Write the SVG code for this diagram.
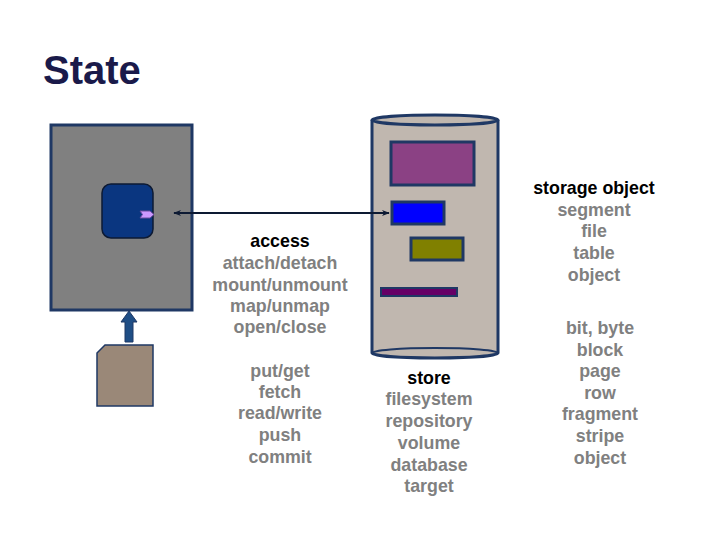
<svg xmlns="http://www.w3.org/2000/svg" width="720" height="540" viewBox="0 0 720 540">
<defs>
<style>
.t{font-family:"Liberation Sans",Arial,sans-serif;font-weight:bold;font-size:17.8px;text-anchor:middle;fill:#808080}
.h{fill:#000}
.ol{stroke:#1f3864;stroke-width:3}
</style>
<marker id="ah" viewBox="0 0 10 10" refX="9" refY="5" markerWidth="8" markerHeight="8" markerUnits="userSpaceOnUse" orient="auto-start-reverse">
<path d="M0,1 L10,5 L0,9 L3,5 Z" fill="#0d1a33"/>
</marker>
</defs>
<rect width="720" height="540" fill="#fff"/>
<text x="43" y="84" style="font-family:'Liberation Sans',Arial,sans-serif;font-weight:bold;font-size:40px;fill:#1a1a4a">State</text>
<g id="host">
<rect x="51" y="125" width="141" height="185" fill="#808080" class="ol"/>
<rect x="102" y="184" width="51" height="54" rx="9" fill="#0a3680" stroke="#0d1a33" stroke-width="1.5"/>
<path d="M140,211 L150,211 L154,214.5 L150,218 L140,218 L142.5,214.5 Z" fill="#cc99ff" stroke="#6a4c9c" stroke-width="1"/>
</g>
<g id="document">
<path d="M97,353 L105,345 L153,345 L153,406 L97,406 Z" fill="#9a8878" stroke="#1f3864" stroke-width="1.5"/>
</g>
<g id="store">
<path d="M372,120 L372,353 A63,5 0 0 0 498,353 L498,120" fill="#c0b7af" class="ol"/>
<path d="M372,353 A63,5 0 0 1 498,353" fill="none" stroke="#1f3864" stroke-width="2"/>
<ellipse cx="435" cy="120" rx="63" ry="5" fill="#c0b7af" class="ol"/>
<rect x="391" y="142" width="83" height="43" fill="#8b4184" class="ol"/>
<rect x="392" y="202" width="52" height="22" fill="#0000ff" class="ol"/>
<rect x="411" y="238" width="52" height="22" fill="#808000" class="ol"/>
<rect x="381" y="288" width="76" height="8" fill="#660066" stroke="#1f3864" stroke-width="2"/>
</g>
<g id="connectors">
<line x1="174" y1="213" x2="389" y2="213" stroke="#0d1a33" stroke-width="2" marker-start="url(#ah)" marker-end="url(#ah)"/>
<path d="M125,342 L125,322 L121,322 L129,311 L137,322 L133,322 L133,342 Z" fill="#1f4e85" stroke="#1f3864" stroke-width="1"/>
</g>
<g id="access-label">
<text class="t h" x="280" y="247">access</text>
<text class="t" x="280" y="269">attach/detach</text>
<text class="t" x="280" y="291">mount/unmount</text>
<text class="t" x="280" y="312">map/unmap</text>
<text class="t" x="280" y="333">open/close</text>
</g>
<g id="ops-label">
<text class="t" x="280" y="377">put/get</text>
<text class="t" x="280" y="398">fetch</text>
<text class="t" x="280" y="419">read/write</text>
<text class="t" x="280" y="441">push</text>
<text class="t" x="280" y="463">commit</text>
</g>
<g id="store-label">
<text class="t h" x="429" y="384">store</text>
<text class="t" x="429" y="405">filesystem</text>
<text class="t" x="429" y="427">repository</text>
<text class="t" x="429" y="449">volume</text>
<text class="t" x="429" y="471">database</text>
<text class="t" x="429" y="492">target</text>
</g>
<g id="storage-object-label">
<text class="t h" x="594" y="194">storage object</text>
<text class="t" x="594" y="216">segment</text>
<text class="t" x="594" y="237">file</text>
<text class="t" x="594" y="259">table</text>
<text class="t" x="594" y="281">object</text>
</g>
<g id="unit-label">
<text class="t" x="600" y="334">bit, byte</text>
<text class="t" x="600" y="356">block</text>
<text class="t" x="600" y="377">page</text>
<text class="t" x="600" y="399">row</text>
<text class="t" x="600" y="420">fragment</text>
<text class="t" x="600" y="442">stripe</text>
<text class="t" x="600" y="464">object</text>
</g>
</svg>
